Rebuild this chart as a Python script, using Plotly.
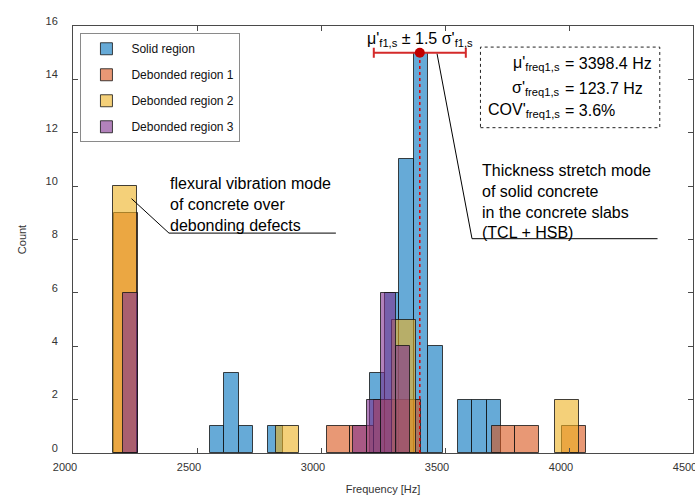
import plotly.graph_objects as go

# ---------------- data ----------------
x_range = [2000, 4500]
y_range = [0, 16]
x_ticks = [2000, 2500, 3000, 3500, 4000, 4500]
y_ticks = [0, 2, 4, 6, 8, 10, 12, 14, 16]

series_names = ["Solid region", "Debonded region 1", "Debonded region 2", "Debonded region 3"]

# histogram bins: first bin edge [Hz], bin width [Hz], occupied bin indices, counts
solid_start, solid_width = 2551.0, 58.8
solid_bins = [0, 1, 2, 4, 11, 12, 13, 14, 15, 17, 18, 19]
solid_counts = [1, 3, 1, 1, 3, 6, 11, 15, 4, 2, 2, 2]

deb1_start, deb1_width = 3022.4, 95.1
deb1_bins = [-9, 0, 1, 2, 3, 7, 8, 10]
deb1_counts = [9, 1, 1, 2, 2, 1, 1, 1]

deb2_start, deb2_width = 2162.4, 93.8
deb2_bins = [0, 7, 12, 19]
deb2_counts = [10, 1, 5, 2]

deb3_start, deb3_width = 2202.6, 57.8
deb3_bins = [0, 16, 17, 18, 19]
deb3_counts = [6, 1, 2, 6, 4]

mu_f1 = 3398.4
sigma_f1 = 123.7
cov_f1 = 3.6
k_sigma = 1.5
peak_count = 15

fill_colors = ["rgba(0,114,189,0.6)", "rgba(217,83,25,0.6)",
               "rgba(237,177,32,0.6)", "rgba(126,47,142,0.6)"]

FONT = "Liberation Sans, Arial, Helvetica, sans-serif"
AX = "#4a4a4a"

fig = go.Figure()

series = [
    (solid_start, solid_width, solid_bins, solid_counts),
    (deb1_start, deb1_width, deb1_bins, deb1_counts),
    (deb2_start, deb2_width, deb2_bins, deb2_counts),
    (deb3_start, deb3_width, deb3_bins, deb3_counts),
]
for i, (start, w, bins, counts) in enumerate(series):
    centers = [start + w * (b + 0.5) for b in bins]
    fig.add_trace(go.Bar(
        x=centers, y=counts, width=[w] * len(bins),
        name=series_names[i], legendgroup=f"g{i}",
        marker=dict(color=fill_colors[i], line=dict(color="rgba(20,20,20,0.8)", width=1)),
    ))

# mean line and +/- 1.5 sigma error bar
fig.add_trace(go.Scatter(
    x=[mu_f1, mu_f1], y=[0, peak_count], mode="lines",
    line=dict(color="#e00000", width=1.5, dash="dot"), showlegend=False,
))
fig.add_trace(go.Scatter(
    x=[mu_f1], y=[peak_count], mode="markers",
    marker=dict(color="#c00000", size=10),
    error_x=dict(type="data", array=[k_sigma * sigma_f1], color="#d42a2a", thickness=2, width=5),
    showlegend=False,
))

# leader lines (annotation callouts)
fig.add_shape(type="path", path="M 2236,9.53 L 2387,8.24 L 3060,8.24",
              line=dict(color="black", width=1), xref="x", yref="y")
fig.add_shape(type="path", path="M 3468,14.96 L 3609,8.03 L 4357,8.03",
              line=dict(color="black", width=1), xref="x", yref="y")
# stats box
fig.add_shape(type="rect", x0=3643, x1=4366, y0=12.19, y1=15.21,
              line=dict(color="#222", width=1, dash="dot"), xref="x", yref="y")

ann_font = dict(family=FONT, size=16, color="black")
fig.add_annotation(x=2385, y=9.3, xref="x", yref="y", xanchor="left", yanchor="middle",
                   align="left", showarrow=False, font=ann_font,
                   text="flexural vibration mode<br>of concrete over<br>debonding defects")
fig.add_annotation(x=3643, y=9.43, xref="x", yref="y", xanchor="left", yanchor="middle",
                   align="left", showarrow=False, font=ann_font,
                   text="Thickness stretch mode<br>of solid concrete<br>in the concrete slabs<br>(TCL + HSB)")
fig.add_annotation(x=mu_f1, y=15.5, xref="x", yref="y", xanchor="center", yanchor="middle",
                   showarrow=False, font=ann_font,
                   text=f"μ'<sub>f1,s</sub> ± {k_sigma} σ'<sub>f1,s</sub>")

stat_rows = [
    ("μ'<sub>freq1,s</sub>", f"= {mu_f1} Hz", 14.60),
    ("σ'<sub>freq1,s</sub>", f"= {sigma_f1} Hz", 13.67),
    ("COV'<sub>freq1,s</sub>", f"= {cov_f1}%", 12.85),
]
for left, right, yy in stat_rows:
    fig.add_annotation(x=3970, y=yy, xref="x", yref="y", xanchor="right", yanchor="middle",
                       showarrow=False, font=ann_font, text=left)
    fig.add_annotation(x=3975, y=yy, xref="x", yref="y", xanchor="left", yanchor="middle",
                       showarrow=False, font=ann_font, text=right)

fig.update_layout(
    width=695, height=501,
    margin=dict(l=73, r=2, t=26, b=48, autoexpand=False),
    paper_bgcolor="white", plot_bgcolor="white",
    barmode="overlay", bargap=0,
    font=dict(family=FONT, size=11, color="#333"),
    showlegend=True,
    legend=dict(x=0.012, y=0.983, xanchor="left", yanchor="top",
                bgcolor="white", bordercolor="#8a8a8a", borderwidth=1,
                font=dict(family=FONT, size=12, color="#111"),
                tracegroupgap=7, itemwidth=40),
    xaxis=dict(range=x_range, tickvals=x_ticks, ticks="inside", ticklen=5,
               tickcolor=AX, linecolor=AX, linewidth=1, mirror="ticks",
               showgrid=False, zeroline=False, ticklabelshift=-8, ticklabelstandoff=4,
               ticklabeloverflow="allow", automargin=False,
               tickfont=dict(size=11, color="#333"),
               title=dict(text="Frequency [Hz]", font=dict(size=11, color="#333"), standoff=13)),
    yaxis=dict(range=y_range, tickvals=y_ticks, ticks="inside", ticklen=5,
               tickcolor=AX, linecolor=AX, linewidth=1, mirror="ticks",
               showgrid=False, zeroline=False, ticklabelshift=-5, ticklabelstandoff=12,
               ticklabeloverflow="allow", automargin=False,
               tickfont=dict(size=11, color="#333"),
               title=dict(text="Count", font=dict(size=11, color="#333"), standoff=16)),
)

fig.write_html("out.html")
